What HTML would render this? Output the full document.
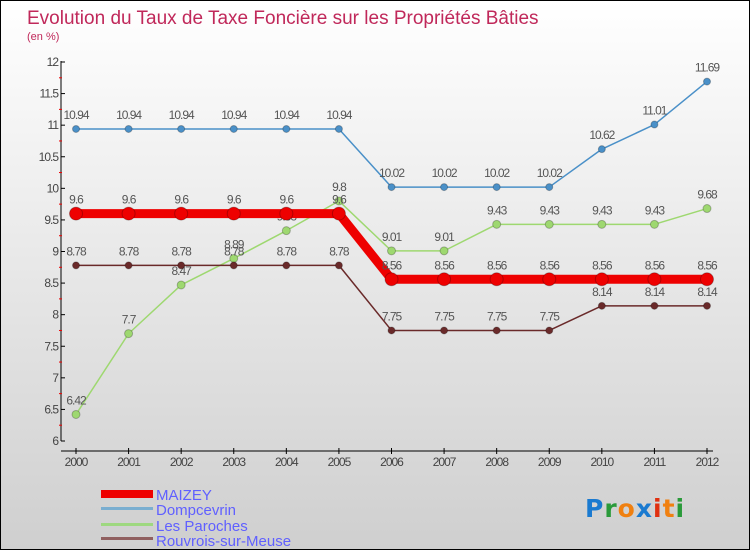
<!DOCTYPE html>
<html><head><meta charset="utf-8"><style>
body{margin:0}
#c{width:750px;height:550px;position:relative;box-sizing:border-box;border:1px solid #000;background:linear-gradient(#ffffff,#cfcfcf);font-family:"Liberation Sans",sans-serif;overflow:hidden}
</style></head><body>
<div id="c">
<svg id="s" width="750" height="550" style="position:absolute;left:0;top:0">
<text x="26" y="23" font-size="19" fill="#c0285a">Evolution du Taux de Taxe Foncière sur les Propriétés Bâties</text>
<text x="26" y="39" font-size="11" fill="#c0285a">(en %)</text>
<g id="axes"></g><g id="series"></g>
<g>
<rect x="100" y="489" width="52" height="8" fill="#e00"/>
<text x="155" y="499" font-size="15" fill="#6060ff">MAIZEY</text>
<rect x="100" y="506" width="52" height="3" fill="#7aaed0"/>
<text x="155" y="514" font-size="15" fill="#6060ff">Dompcevrin</text>
<rect x="100" y="522" width="52" height="3" fill="#9ed880"/>
<text x="155" y="530" font-size="15" fill="#6060ff">Les Paroches</text>
<rect x="100" y="536" width="52" height="3" fill="#906060"/>
<text x="155" y="545" font-size="15" fill="#6060ff">Rouvrois-sur-Meuse</text>
</g>
<g font-size="25" font-weight="bold" font-family="'DejaVu Sans',sans-serif">
<text x="584" y="516" letter-spacing="1"><tspan fill="#1a7ad0">P</tspan><tspan fill="#2a9a3a">r</tspan><tspan fill="#f08010">o</tspan><tspan fill="#1a7ad0">x</tspan><tspan fill="#e03010">i</tspan><tspan fill="#f08010">t</tspan><tspan fill="#2a9a3a">i</tspan></text>
</g>
</svg>
<script>
const years=[2000,2001,2002,2003,2004,2005,2006,2007,2008,2009,2010,2011,2012];
const maizey=[9.6,9.6,9.6,9.6,9.6,9.6,8.56,8.56,8.56,8.56,8.56,8.56,8.56];
const dompcevrin=[10.94,10.94,10.94,10.94,10.94,10.94,10.02,10.02,10.02,10.02,10.62,11.01,11.69];
const paroches=[6.42,7.7,8.47,8.89,9.33,9.8,9.01,9.01,9.43,9.43,9.43,9.43,9.68];
const rouvrois=[8.78,8.78,8.78,8.78,8.78,8.78,7.75,7.75,7.75,7.75,8.14,8.14,8.14];
const yTicks=[6,6.5,7,7.5,8,8.5,9,9.5,10,10.5,11,11.5,12];
const NS="http://www.w3.org/2000/svg";
const X=i=>75+i*(706-75)/(years.length-1);
const Y=v=>440-(v-6)*(440-61)/6;
function mk(tag,attrs,parent){const e=document.createElementNS(NS,tag);for(const k in attrs)e.setAttribute(k,attrs[k]);parent.appendChild(e);return e;}
const ax=document.getElementById('axes'),sg=document.getElementById('series');
let yl=mk('line',{x1:60,y1:60,x2:60,y2:440,stroke:'#000'},ax);


let xl=mk('line',{x1:60,y1:450,x2:712,y2:450,stroke:'#000'},ax);


yTicks.forEach((v,k)=>{
 mk('line',{x1:60,y1:Y(v),x2:64,y2:Y(v),stroke:'#000'},ax);
 if(k<yTicks.length-1) mk('line',{x1:58,y1:Y(v+0.25),x2:61,y2:Y(v+0.25),stroke:'#e00'},ax);
 const t=mk('text',{x:57,y:Y(v)+4,'text-anchor':'end','font-size':12,fill:'#444','letter-spacing':'-1'},ax);
 t.textContent=v;
 
 
});
years.forEach((yr,i)=>{
 mk('line',{x1:X(i),y1:447,x2:X(i),y2:453,stroke:'#000'},ax);
 const t=mk('text',{x:X(i),y:465,'text-anchor':'middle','font-size':12,fill:'#444','letter-spacing':'-1'},ax);
 t.textContent=yr;
 
 
});
function series(data,color,w,r,name,labels){
 const g=mk('g',{},sg);
 
 
 mk('polyline',{points:data.map((v,i)=>X(i)+','+Y(v)).join(' '),fill:'none',stroke:color,'stroke-width':w,'stroke-linejoin':'round'},g);
 data.forEach((v,i)=>{
  const c=mk('circle',{cx:X(i),cy:Y(v),r:r,fill:color,stroke:'rgba(0,0,0,0.25)'},g);
  
  
  if(labels){const t=mk('text',{x:X(i),y:Y(v)-10,'text-anchor':'middle','font-size':12,fill:'#555','letter-spacing':'-1'},g);t.textContent=v;}
 });
}
series(paroches,'#9ed870',1.5,4,'series-les-paroches',true);
series(rouvrois,'#6a2a2a',1.5,3.5,'series-rouvrois-sur-meuse',true);
series(dompcevrin,'#4a90c8',1.5,3.5,'series-dompcevrin',true);
series(maizey,'#ee0000',9,6.5,'series-maizey',true);
</script>
</div>
</body></html>
